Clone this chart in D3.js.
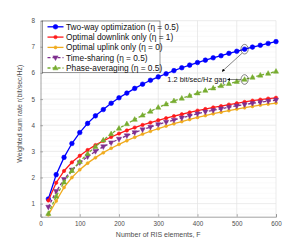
<!DOCTYPE html>
<html>
<head>
<meta charset="utf-8">
<script src="https://cdn.jsdelivr.net/npm/d3@7"></script>
<style>
  html, body { margin: 0; padding: 0; background: #fff; }
  svg { display: block; font-family: "Liberation Sans", Arial, sans-serif; }
</style>
</head>
<body>
<div id="chart"></div>
<script>
// number of RIS elements F
const elements = [20, 40, 60, 80, 100, 120, 140, 160, 180, 200, 220, 240, 260, 280, 300,
  320, 340, 360, 380, 400, 420, 440, 460, 480, 500, 520, 540, 560, 580, 600];

const twoWay = [1.18, 2.11, 2.77, 3.30, 3.72, 4.07, 4.36, 4.60, 4.84, 5.05, 5.23, 5.41, 5.57, 5.72, 5.85,
  5.97, 6.09, 6.20, 6.30, 6.40, 6.49, 6.58, 6.66, 6.75, 6.83, 6.91, 6.99, 7.06, 7.13, 7.20];
const downlinkOnly = [1.12, 1.80, 2.25, 2.58, 2.83, 3.05, 3.24, 3.40, 3.55, 3.68, 3.80, 3.91, 4.01, 4.10, 4.19,
  4.27, 4.35, 4.42, 4.49, 4.56, 4.62, 4.68, 4.73, 4.79, 4.84, 4.89, 4.94, 4.98, 5.02, 5.05];
const uplinkOnly = [0.57, 1.10, 1.62, 2.00, 2.30, 2.55, 2.76, 2.95, 3.12, 3.27, 3.41, 3.54, 3.66, 3.77, 3.87,
  3.97, 4.06, 4.14, 4.22, 4.30, 4.37, 4.44, 4.50, 4.56, 4.62, 4.67, 4.72, 4.77, 4.81, 4.85];
const timeSharing = [0.87, 1.47, 1.93, 2.29, 2.57, 2.80, 3.00, 3.18, 3.33, 3.47, 3.60, 3.72, 3.83, 3.93, 4.03,
  4.12, 4.20, 4.28, 4.36, 4.44, 4.51, 4.57, 4.63, 4.69, 4.74, 4.79, 4.84, 4.88, 4.92, 4.96];
const phaseAveraging = [0.62, 1.28, 1.82, 2.26, 2.61, 2.91, 3.18, 3.43, 3.67, 3.88, 4.05, 4.22, 4.38, 4.53, 4.68,
  4.81, 4.93, 5.03, 5.13, 5.23, 5.33, 5.42, 5.51, 5.59, 5.67, 5.75, 5.83, 5.91, 5.98, 6.06];

const xTicks = [0, 100, 200, 300, 400, 500, 600];
const yTicks = [1, 2, 3, 4, 5, 6, 7, 8];

const legendLabels = [
  'Two-way optimization (\u03B7 = 0.5)',
  'Optimal downlink only (\u03B7 = 1)',
  'Optimal uplink only (\u03B7 = 0)',
  'Time-sharing (\u03B7 = 0.5)',
  'Phase-averaging (\u03B7 = 0.5)'
];

const gapLabel = '1.2 bit/sec/Hz gap';
const gapAt = 520;

const width = 301;
const height = 250;
const margin = {left: 40.5, right: 25, top: 20.7, bottom: 33.3};
const tickColor = '#4d4d4d';
const gridColor = '#e3e3e3';
const minorGridColor = '#ececec';
const fontSize = '7px';
const tickFontSize = '6.3px';
const legendFontSize = '8.3px';

const series = [
  {values: twoWay, color: '#0000ff', dash: null, marker: 'circle', size: 2.3},
  {values: downlinkOnly, color: '#ff1a1a', dash: null, marker: 'dot', size: 1.7},
  {values: uplinkOnly, color: '#f0ab1e', dash: null, marker: 'dot', size: 1.5},
  {values: timeSharing, color: '#7e2f8e', dash: '3,2', marker: 'down', size: 2.6},
  {values: phaseAveraging, color: '#77ac30', dash: '3,2', marker: 'up', size: 2.6},
];

function drawMarker(g, kind, x, y, color, size) {
  if (kind === 'circle' || kind === 'dot') {
    g.append('circle')
      .attr('cx', x).attr('cy', y).attr('r', size)
      .attr('fill', color)
      .attr('stroke', color)
      .attr('stroke-width', 0.6);
  } else {
    const s = size;
    const pts = kind === 'up'
      ? [[x, y - s * 1.1], [x + s, y + s * 0.7], [x - s, y + s * 0.7]]
      : [[x, y + s * 1.1], [x + s, y - s * 0.7], [x - s, y - s * 0.7]];
    g.append('path')
      .attr('d', 'M' + pts.join('L') + 'Z')
      .attr('fill', color)
      .attr('stroke', color)
      .attr('stroke-width', 0.5);
  }
}

const svg = d3.select('#chart')
  .append('svg')
  .attr('width', width)
  .attr('height', height);

const xScale = d3.scaleLinear()
  .domain([0, 600])
  .range([margin.left, width - margin.right]);

const yScale = d3.scaleLinear()
  .domain([0.5, 8])
  .range([height - margin.bottom, margin.top]);

/* grid */
const grid = svg.append('g');
grid.selectAll('.minor')
  .data(d3.range(6, 80, 2).map(v => v / 10).filter(v => v % 1 !== 0))
  .enter().append('line')
  .attr('x1', xScale(0)).attr('x2', xScale(600))
  .attr('y1', d => yScale(d)).attr('y2', d => yScale(d))
  .attr('stroke', minorGridColor)
  .attr('stroke-width', 0.6)
  .attr('stroke-dasharray', '1,1');

grid.selectAll('.hmajor')
  .data(yTicks)
  .enter().append('line')
  .attr('x1', xScale(0)).attr('x2', xScale(600))
  .attr('y1', d => yScale(d)).attr('y2', d => yScale(d))
  .attr('stroke', gridColor)
  .attr('stroke-width', 0.7);

grid.selectAll('.vmajor')
  .data(xTicks.slice(1))
  .enter().append('line')
  .attr('x1', d => xScale(d)).attr('x2', d => xScale(d))
  .attr('y1', yScale(0.5)).attr('y2', yScale(8))
  .attr('stroke', gridColor)
  .attr('stroke-width', 0.7);

/* axes */
const xAxis = d3.axisBottom(xScale).tickValues(xTicks).tickSize(-2.5).tickPadding(5.2);
const yAxis = d3.axisLeft(yScale).tickValues(yTicks).tickSize(-2.5).tickPadding(5.5);

const xAxisElement = svg.append('g')
  .attr('transform', `translate(0, ${yScale(0.5)})`)
  .call(xAxis);
const yAxisElement = svg.append('g')
  .attr('transform', `translate(${xScale(0)}, 0)`)
  .call(yAxis);

[xAxisElement, yAxisElement].forEach(a => {
  a.select('.domain').attr('stroke', '#8c8c8c').attr('stroke-width', 0.8);
  a.selectAll('line').attr('stroke', '#8c8c8c').attr('stroke-width', 0.7);
  a.selectAll('text')
    .attr('fill', tickColor)
    .style('font-size', tickFontSize)
    .style('font-family', '"Liberation Sans", Arial, sans-serif');
});

svg.append('text')
  .attr('x', xScale(300))
  .attr('y', 237)
  .attr('text-anchor', 'middle')
  .attr('fill', tickColor)
  .style('font-size', fontSize)
  .text('Number of RIS elements, F');

svg.append('text')
  .attr('transform', `translate(21.5, ${(yScale(0.5) + yScale(8)) / 2 - 5}) rotate(-90)`)
  .attr('text-anchor', 'middle')
  .attr('fill', tickColor)
  .style('font-size', fontSize)
  .text('Weighted sum rate r(bit/sec/Hz)');

/* curves */
const line = d3.line()
  .x((d, i) => xScale(elements[i]))
  .y(d => yScale(d));

series.forEach(s => {
  const g = svg.append('g');
  g.append('path')
    .datum(s.values)
    .attr('fill', 'none')
    .attr('stroke', s.color)
    .attr('stroke-width', 1.3)
    .attr('stroke-dasharray', s.dash)
    .attr('d', line);
  s.values.forEach((v, i) => drawMarker(g, s.marker, xScale(elements[i]), yScale(v), s.color, s.size));
});

/* gap annotation */
const gapIndex = elements.indexOf(gapAt);
const topY = yScale(twoWay[gapIndex]);
const lowY = yScale(phaseAveraging[gapIndex]);
const gx = xScale(gapAt);

svg.append('defs').append('marker')
  .attr('id', 'arrow')
  .attr('viewBox', '0 0 10 10')
  .attr('refX', 9).attr('refY', 5)
  .attr('markerWidth', 5).attr('markerHeight', 5)
  .attr('orient', 'auto')
  .append('path')
  .attr('d', 'M0,0L10,5L0,10Z')
  .attr('fill', '#000');

[topY, lowY].forEach(cy => {
  svg.append('ellipse')
    .attr('cx', gx).attr('cy', cy)
    .attr('rx', 3.6).attr('ry', 4.8)
    .attr('fill', 'none')
    .attr('stroke', '#333')
    .attr('stroke-width', 0.6);
});

svg.append('line')
  .attr('x1', gx - 2.5).attr('y1', topY + 4)
  .attr('x2', 222).attr('y2', 71.5)
  .attr('stroke', '#333').attr('stroke-width', 0.6)
  .attr('marker-end', 'url(#arrow)');

svg.append('line')
  .attr('x1', gx - 3.6).attr('y1', lowY)
  .attr('x2', 227.5).attr('y2', lowY)
  .attr('stroke', '#333').attr('stroke-width', 0.6)
  .attr('marker-end', 'url(#arrow)');

svg.append('text')
  .attr('x', 226.5)
  .attr('y', lowY + 2.6)
  .attr('text-anchor', 'end')
  .attr('fill', '#111')
  .style('font-size', '7.4px')
  .text(gapLabel);

/* legend */
const legend = svg.append('g').attr('transform', 'translate(42.5, 21)');
legend.append('rect')
  .attr('width', 117.5).attr('height', 51.7)
  .attr('fill', '#fff')
  .attr('stroke', '#555')
  .attr('stroke-width', 0.6);

series.forEach((s, i) => {
  const y = 5.8 + i * 10.3;
  legend.append('line')
    .attr('x1', 5).attr('x2', 21)
    .attr('y1', y).attr('y2', y)
    .attr('stroke', s.color)
    .attr('stroke-width', 1.3)
    .attr('stroke-dasharray', s.dash);
  drawMarker(legend, s.marker, 13, y, s.color, s.size);
  legend.append('text')
    .attr('x', 23.5)
    .attr('y', y + 2.9)
    .attr('fill', '#111')
    .style('font-size', legendFontSize)
    .text(legendLabels[i]);
});
</script>
</body>
</html>
